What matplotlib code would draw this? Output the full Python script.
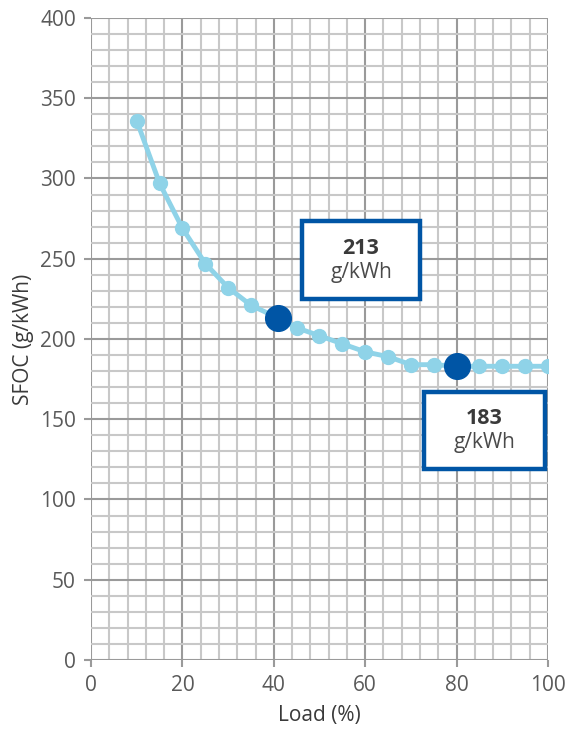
import matplotlib
matplotlib.use("Agg")
import matplotlib.pyplot as plt
from matplotlib.ticker import MultipleLocator
from matplotlib.patches import Rectangle

plt.rcParams['font.family'] = ['Open Sans', 'DejaVu Sans']

load = [10, 15, 20, 25, 30, 35, 45, 50, 55, 60, 65, 70, 75, 85, 90, 95, 100]
sfoc = [336, 297, 269, 247, 232, 221, 207, 202, 197, 192, 189, 184, 184, 183, 183, 183, 183]
key_load = [41, 80]
key_sfoc = [213, 183]
key_labels = ["213", "183"]
xticks = [0, 20, 40, 60, 80, 100]
yticks = [0, 50, 100, 150, 200, 250, 300, 350, 400]

line_x = sorted(load + key_load)
all_pts = dict(zip(load, sfoc))
all_pts.update(dict(zip(key_load, key_sfoc)))
line_y = [all_pts[x] for x in line_x]

fig = plt.figure(figsize=(5.69, 7.29), dpi=100)
ax = fig.add_axes([0.160, 0.0947, 0.803, 0.8806])
ax.set_xlim(0, 100)
ax.set_ylim(0, 400)
ax.set_xticks(xticks)
ax.set_yticks(yticks)
ax.xaxis.set_minor_locator(MultipleLocator(4))
ax.yaxis.set_minor_locator(MultipleLocator(10))
ax.grid(which='minor', color='#c8c8c8', linewidth=1.5, zorder=0)
ax.grid(which='major', color='#9a9a9a', linewidth=1.5, zorder=0)
ax.set_axisbelow(True)
for s in ax.spines.values():
    s.set_visible(False)
ax.tick_params(which='major', length=5, width=1.5, color='#9a9a9a',
               labelsize=15, labelcolor='#5a5a5a', pad=6)
ax.tick_params(which='minor', length=0)

ax.plot(line_x, line_y, color='#8fd3e8', linewidth=3.5, zorder=3, solid_capstyle='round')
ax.plot(load, sfoc, 'o', color='#8fd3e8', markersize=10, zorder=4)
ax.plot(key_load, key_sfoc, 'o', color='#0055a5', markersize=18.5, zorder=5)

# annotation boxes: (x0, y0, width, height) in data units
boxes = [(46.2, 225, 25.8, 48.5), (72.9, 119, 26.4, 48)]
for (bx, by, bw, bh), lbl in zip(boxes, key_labels):
    ax.add_patch(Rectangle((bx, by), bw, bh, facecolor='white', edgecolor='#0055a5',
                           linewidth=3.2, zorder=6))
    cx = bx + bw / 2
    ax.text(cx, by + bh * 0.65, lbl, ha='center', va='center', fontsize=15.5,
            fontweight='bold', color='#3a3a3a', zorder=7)
    ax.text(cx, by + bh * 0.34, "g/kWh", ha='center', va='center', fontsize=15,
            color='#4a4a4a', zorder=7)

ax.set_xlabel('Load (%)', fontsize=15, color='#3a3a3a', labelpad=6)
ax.set_ylabel('SFOC (g/kWh)', fontsize=15, color='#3a3a3a', labelpad=4)

fig.savefig('out.png', dpi=100)
